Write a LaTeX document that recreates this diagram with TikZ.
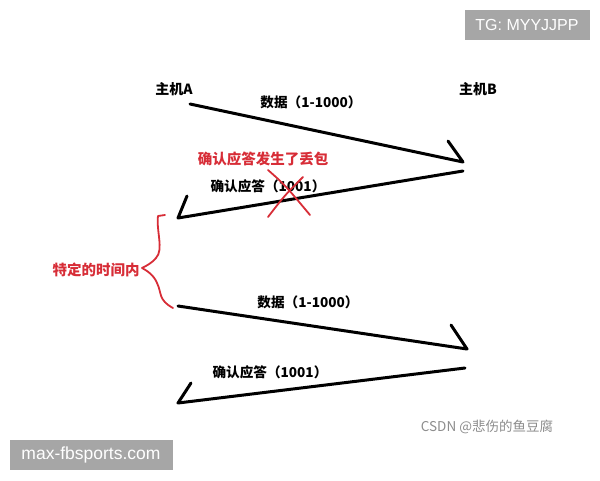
\documentclass[tikz,border=0pt]{standalone}
\usepackage{fontspec}
\newfontfamily\cjk{Noto Sans CJK SC}
\newfontfamily\wm{Liberation Sans}
\definecolor{penred}{RGB}{215,45,55}
\definecolor{wmgray}{RGB}{166,166,166}
\tikzset{
  host/.style={font=\cjk\bfseries\fontsize{14}{16}\selectfont},
  lbl/.style={font=\cjk\bfseries\fontsize{13.6}{16}\selectfont},
  redlbl/.style={font=\cjk\bfseries\fontsize{14.5}{17}\selectfont,text=penred},
  pen/.style={line width=3pt,line cap=round,line join=round},
  redpen/.style={line width=1.8pt,line cap=round,penred},
  wmbox/.style={fill=wmgray,text=white,inner sep=0pt}
}
\begin{document}
\begin{tikzpicture}[x=1pt,y=-1pt]
\useasboundingbox (0,0) rectangle (600,480);
\node[host] (hA) at (174,89) {主机A};
\node[host] (hB) at (478,89) {主机B};
% first round
\coordinate (s1) at (190,104); \coordinate (e1) at (463,162); \coordinate (t1) at (448,141);
\coordinate (s2) at (463,171); \coordinate (e2) at (178,218); \coordinate (t2) at (187,196);
\draw[pen] (s1) -- (e1) -- (t1);
\draw[pen] (s2) -- (e2) -- (t2);
\node[lbl] (d1) at (311,102) {数据（1-1000）};
\node[lbl] (c1) at (268,186) {确认应答（1001）};
\node[redlbl] (loss) at (263,159) {确认应答发生了丢包};
\coordinate (x1) at (268,170); \coordinate (x2) at (310,215);
\coordinate (x3) at (303,177); \coordinate (x4) at (268,217);
\draw[redpen] (x1) .. controls (285,185) .. (x2);
\draw[redpen] (x3) .. controls (285,195) .. (x4);
% timeout
\coordinate (b1) at (165,215); \coordinate (bt) at (142,268); \coordinate (b2) at (173,308);
\draw[redpen,line join=round] (b1) -- (158,216) .. controls (156,230) and (164,250) .. (156,258)
  .. controls (152,263) and (146,266) .. (bt)
  .. controls (146,270) and (154,275) .. (157,283)
  .. controls (162,293) and (158,300) .. (b2);
\node[redlbl] (tm) at (96,270) {特定的时间内};
% second round
\coordinate (s3) at (178,306); \coordinate (e3) at (467,349); \coordinate (t3) at (451,325);
\coordinate (s4) at (465,368); \coordinate (e4) at (178,403); \coordinate (t4) at (191,383);
\draw[pen] (s3) -- (e3) -- (t3);
\draw[pen] (s4) -- (e4) -- (t4);
\node[lbl] (d2) at (308,302) {数据（1-1000）};
\node[lbl] (c2) at (270,372) {确认应答（1001）};
% marks
\node[wmbox,font=\wm\fontsize{16}{18}\selectfont,minimum width=125pt,minimum height=30pt] (tg) at (527,25) {TG: MYYJJPP};
\node[wmbox,font=\wm\fontsize{17.5}{20}\selectfont,minimum width=163pt,minimum height=30pt] (site) at (91,455) {max-fbsports.com};
\node[font=\cjk\fontsize{13.5}{16}\selectfont,text=black!45] (csdn) at (487,427) {CSDN @悲伤的鱼豆腐};
\end{tikzpicture}
\end{document}
